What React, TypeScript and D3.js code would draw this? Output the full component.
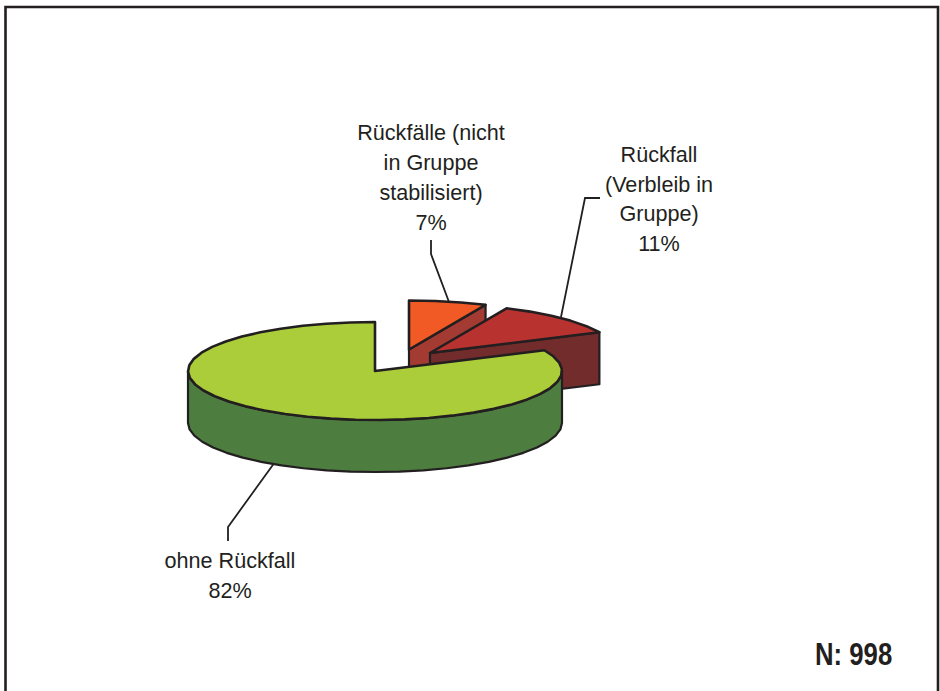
import React from "react";
import * as d3 from "d3";

const categories = ["Rückfälle (nicht in Gruppe stabilisiert)", "Rückfall (Verbleib in Gruppe)", "ohne Rückfall"];
const values = [67, 113, 818];
const topColors = ["#f15a24", "#b83230", "#abcd39"];
const sideColors = ["#a33b32", "#722c2c", "#4e7d40"];
const centers: [number, number][] = [[409, 349.5], [430, 353], [375, 371]];
const labelLines = [
  ["Rückfälle (nicht", "in Gruppe", "stabilisiert)", "7%"],
  ["Rückfall", "(Verbleib in", "Gruppe)", "11%"],
  ["ohne Rückfall", "82%"],
];
const labelX = [431, 659, 230];
const labelY = [[140, 170, 200, 230], [162, 192, 221, 251], [568, 598]];
const leaders: [number, number][][] = [
  [[431, 240], [431, 254], [449, 302]],
  [[600, 198], [585, 198], [561, 317]],
  [[228, 541], [228, 527], [275, 462]],
];

const RX = 187, RY = 49, DEPTH = 52, STEP = Math.PI / 24;
const ink = "#231f20";

const sx = d3.scaleLinear().domain([-1, 1]).range([-RX, RX]);
const sy = d3.scaleLinear().domain([-1, 1]).range([-RY, RY]);
const arcs = d3.pie<number>().sort(null).startAngle(0).endAngle(2 * Math.PI)(values);
const line = d3.line<[number, number]>().curve(d3.curveLinear);

const pt = (c: [number, number], a: number, dy = 0): [number, number] =>
  [c[0] + sx(Math.sin(a)), c[1] + sy(-Math.cos(a)) + dy];
const sample = (a0: number, a1: number) => {
  const n = Math.max(1, Math.round(Math.abs(a1 - a0) / STEP));
  return d3.range(n + 1).map(i => a0 + ((a1 - a0) * i) / n);
};

function Slice({ i }: { i: number }) {
  const { startAngle: a0, endAngle: a1 } = arcs[i];
  const c = centers[i];
  const lower: [number, number] = [c[0], c[1] + DEPTH];
  const top = [c, ...sample(a0, a1).map(a => pt(c, a))] as [number, number][];
  const walls: [number, number][][] = [];
  // radial cut wall at the start of the slice, when it faces the viewer
  if (Math.sin(a0) < -0.001) walls.push([c, pt(c, a0), pt(c, a0, DEPTH), lower]);
  // radial cut wall at the end of the slice, when it faces the viewer
  if (Math.sin(a1) > 0.001) walls.push([c, pt(c, a1), pt(c, a1, DEPTH), lower]);
  // outer rim: only its front half can be seen
  const r0 = Math.max(a0, Math.PI / 2), r1 = Math.min(a1, (3 * Math.PI) / 2);
  if (r1 > r0) {
    const s = sample(r0, r1);
    walls.push([...s.map(a => pt(c, a)), ...s.slice().reverse().map(a => pt(c, a, DEPTH))]);
  }
  return (
    <g strokeLinejoin="round">
      {walls.map((w, k) => (
        <path key={k} d={line(w)! + "Z"} fill={sideColors[i]} stroke={ink} strokeWidth={2.2} />
      ))}
      <path d={line(top)! + "Z"} fill={topColors[i]} stroke={ink} strokeWidth={2.6} />
    </g>
  );
}

export default function App() {
  return (
    <svg width={940} height={691} style={{ position: "absolute", left: 0, top: 0, background: "#fff" }}>
      <path d="M5.5 691V7H938V691" fill="none" stroke={ink} strokeWidth={2.6} />
      {leaders.map((l, i) => (
        <path key={i} d={line(l)!} fill="none" stroke={ink} strokeWidth={1.8} />
      ))}
      {arcs.map((_, i) => <Slice key={categories[i]} i={i} />)}
      {labelLines.map((lines, i) => (
        <text key={i} textAnchor="middle" fontFamily="'Liberation Sans', Arial, sans-serif" fontSize={21.6} fill={ink}>
          {lines.map((t, j) => <tspan key={j} x={labelX[i]} y={labelY[i][j]}>{t}</tspan>)}
        </text>
      ))}
      <text transform="translate(815 665) scale(0.83 1)" fontFamily="'Liberation Sans', sans-serif" fontWeight="bold" fontSize={31} fill={ink}>N: 998</text>
    </svg>
  );
}
